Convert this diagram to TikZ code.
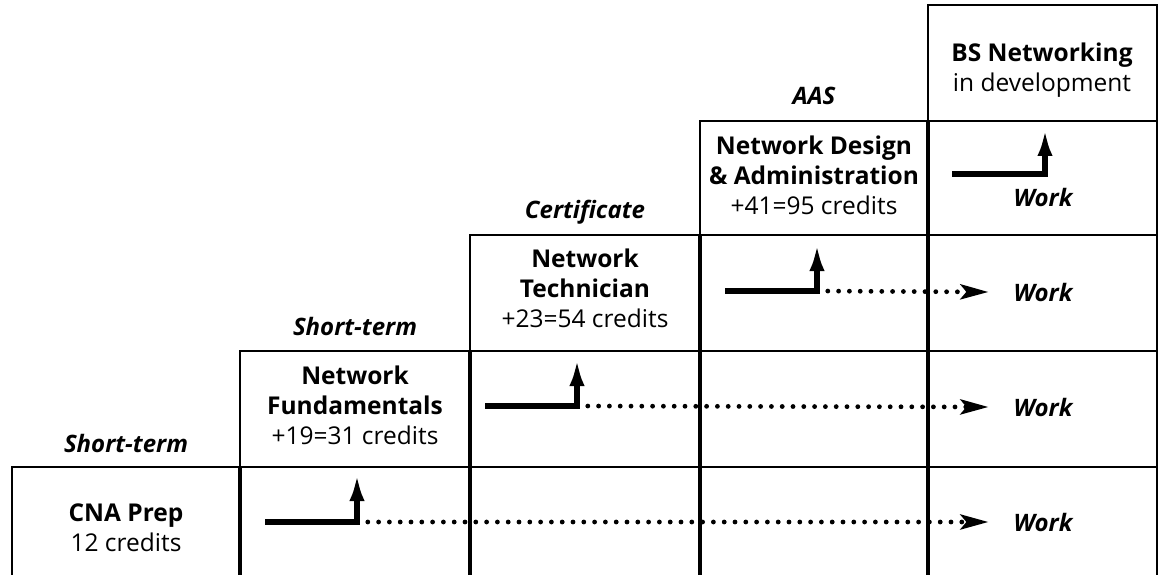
\documentclass[tikz,border=0pt]{standalone}
\usepackage{fontspec}
\setmainfont{Open Sans}
\usetikzlibrary{arrows.meta}
\begin{document}
\begin{tikzpicture}[x=1pt,y=-1pt,
  rule/.style={line width=2.2pt, line join=miter},
  divider/.style={line width=4.5pt},
  tier/.style={font=\bfseries\itshape\fontsize{24}{30}\selectfont, inner sep=0pt},
  course/.style={align=center, font=\fontsize{24.5}{30}\selectfont, inner sep=0pt},
  work/.style={font=\bfseries\itshape\fontsize{24}{30}\selectfont, inner sep=0pt},
  climb/.style={line width=6pt, line join=miter, -{Latex[length=28pt,width=15pt]}},
  onward/.style={line width=4.8pt, line cap=round, dash pattern=on 0pt off 10.8pt,
    -{Stealth[length=28pt,width=15pt,inset=6pt]}},
]
\useasboundingbox (0,0) rectangle (1160,575);

% staircase of boxes
\draw[rule] (12,575) |- (1157,467);
\draw[rule] (240,467) |- (1157,351);
\draw[rule] (470,351) |- (1157,235);
\draw[rule] (700,235) |- (1157,121);
\draw[rule] (928,121) |- (1157,5) -- (1157,575);

% heavy column dividers
\draw[divider] (240,467) -- (240,575);
\draw[divider] (470,351) -- (470,575);
\draw[divider] (700,235) -- (700,575);
\draw[divider] (928,121) -- (928,575);

% level headings
\node[tier] (t1) at (126,443) {Short-term};
\node[tier] (t2) at (355,326) {Short-term};
\node[tier] (t3) at (585,212) {Certificate};
\node[tier] (t4) at (814,96) {AAS};

% programmes
\node[course] (cna) at (126,528) {\textbf{CNA Prep}\\12 credits};
\node[course] (fund) at (355,405) {\textbf{Network}\\\textbf{Fundamentals}\\+19=31 credits};
\node[course] (tech) at (585,288) {\textbf{Network}\\\textbf{Technician}\\+23=54 credits};
\node[course] (nda) at (814,175) {\textbf{Network Design}\\\textbf{\& Administration}\\+41=95 credits};
\node[course] (bs) at (1042,70) {\textbf{BS Networking}\\in development};

% work exits
\node[work] (w1) at (1043,522) {Work};
\node[work] (w2) at (1043,407) {Work};
\node[work] (w3) at (1043,292) {Work};
\node[work] (w4) at (1043,198) {Work};

% progression paths
\coordinate (a1) at (265,522); \coordinate (b1) at (357,522); \coordinate (u1) at (357,473);
\coordinate (a2) at (485,406); \coordinate (b2) at (577,406); \coordinate (u2) at (577,358);
\coordinate (a3) at (725,291); \coordinate (b3) at (817,291); \coordinate (u3) at (817,243);
\coordinate (a4) at (952,174); \coordinate (b4) at (1045,174); \coordinate (u4) at (1045,128);

\draw[onward] (b1) -- ([xshift=-25pt]w1.west);
\draw[onward] (b2) -- ([xshift=-25pt]w2.west);
\draw[onward] (b3) -- ([xshift=-25pt]w3.west);

\draw[climb] (a1) -- (b1) -- (u1);
\draw[climb] (a2) -- (b2) -- (u2);
\draw[climb] (a3) -- (b3) -- (u3);
\draw[climb] (a4) -- (b4) -- (u4);
\end{tikzpicture}
\end{document}
